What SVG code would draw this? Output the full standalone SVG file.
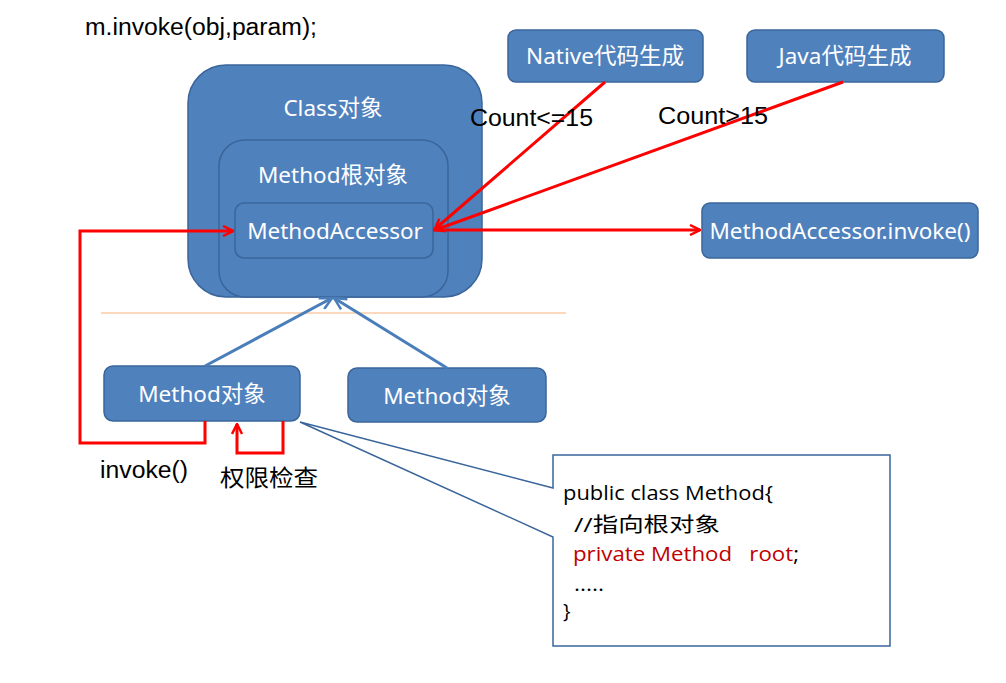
<svg xmlns="http://www.w3.org/2000/svg" width="1006" height="683" viewBox="0 0 1006 683">
<defs>
<style>
.box{fill:#4f81bd;stroke:#3a659a;stroke-width:1.5}
.bt{fill:#fff;font-family:"Noto Sans","Noto Sans CJK SC",sans-serif;font-size:22.5px;text-anchor:middle}
.lbl{fill:#000;font-family:"Liberation Sans","Noto Sans CJK SC",sans-serif;font-size:23px}
.red{fill:none;stroke:#ff0000;stroke-width:3}
.blue{fill:none;stroke:#4a7ebb;stroke-width:3}
.code{font-family:"Open Sans","Noto Sans CJK SC",sans-serif;font-size:20px}
</style>
<marker id="ra" viewBox="0 0 12 12" refX="11" refY="6" markerWidth="12" markerHeight="12" markerUnits="userSpaceOnUse" orient="auto">
<path d="M1,1 L11,6 L1,11" fill="none" stroke="#ff0000" stroke-width="2.5"/>
</marker>
<marker id="ba" viewBox="0 0 14 14" refX="13" refY="7" markerWidth="14" markerHeight="14" markerUnits="userSpaceOnUse" orient="auto">
<path d="M1,1 L13,7 L1,13" fill="none" stroke="#4a7ebb" stroke-width="2.5"/>
</marker>
</defs>
<rect width="1006" height="683" fill="#fff"/>
<text class="lbl" x="85" y="35" textLength="232" lengthAdjust="spacingAndGlyphs">m.invoke(obj,param);</text>
<g id="class-obj">
<rect class="box" x="188" y="65" width="294" height="232" rx="38"/>
<text class="bt" x="333" y="116">Class对象</text>
</g>
<g id="method-root">
<rect class="box" x="219" y="140" width="229" height="157" rx="26"/>
<text class="bt" x="333" y="183">Method根对象</text>
</g>
<g id="method-accessor">
<rect class="box" x="235" y="203" width="198" height="55" rx="9"/>
<text class="bt" x="335" y="239">MethodAccessor</text>
</g>
<g id="native">
<rect class="box" x="508" y="30" width="195" height="52" rx="8"/>
<text class="bt" x="605" y="64">Native代码生成</text>
</g>
<g id="java">
<rect class="box" x="747" y="30" width="197" height="52" rx="8"/>
<text class="bt" x="845" y="64">Java代码生成</text>
</g>
<g id="invoke-box">
<rect class="box" x="702" y="203" width="276" height="55" rx="8"/>
<text class="bt" x="840" y="239">MethodAccessor.invoke()</text>
</g>
<g id="method1">
<rect class="box" x="104" y="366" width="196" height="55" rx="9"/>
<text class="bt" x="202" y="402">Method对象</text>
</g>
<g id="method2">
<rect class="box" x="348" y="368" width="198" height="54" rx="9"/>
<text class="bt" x="447" y="404">Method对象</text>
</g>
<line x1="101" y1="313" x2="566" y2="313" stroke="#f9b27a" stroke-width="1.2"/>
<g id="connectors">
<line class="red" x1="605" y1="82" x2="435" y2="229" marker-end="url(#ra)"/>
<line class="red" x1="843" y1="82" x2="435" y2="230" marker-end="url(#ra)"/>
<line class="red" x1="433" y1="230" x2="700" y2="230" marker-end="url(#ra)"/>
<polyline class="red" points="205,421 205,443 80,443 80,231 233,231" marker-end="url(#ra)"/>
<polyline class="red" points="283,421 283,453 237,453 237,424" marker-end="url(#ra)"/>
<line class="blue" x1="205" y1="366" x2="332" y2="298" marker-end="url(#ba)"/>
<line class="blue" x1="447" y1="368" x2="334" y2="298" marker-end="url(#ba)"/>
</g>
<text class="lbl" x="470" y="126" textLength="123" lengthAdjust="spacingAndGlyphs">Count&lt;=15</text>
<text class="lbl" x="658" y="124" textLength="110" lengthAdjust="spacingAndGlyphs">Count&gt;15</text>
<text class="lbl" x="100" y="478" textLength="88" lengthAdjust="spacingAndGlyphs">invoke()</text>
<text class="lbl" x="220" y="486" font-size="24.5" fill="#333" textLength="98" lengthAdjust="spacingAndGlyphs">权限检查</text>
<g id="code-callout">
<path d="M553,455 L890,455 L890,646 L553,646 L553,537 L300,422 L553,488 Z" fill="#fff" stroke="#3a659a" stroke-width="1.5"/>
<text class="code" x="563" y="500" fill="#000" textLength="210" lengthAdjust="spacingAndGlyphs">public class Method{</text>
<text class="code" x="574" y="532" fill="#000" font-size="22" textLength="146" lengthAdjust="spacingAndGlyphs">//指向根对象</text>
<text class="code" x="573" y="561" fill="#c00000" xml:space="preserve" textLength="226" lengthAdjust="spacingAndGlyphs">private Method   root<tspan fill="#000">;</tspan></text>
<text class="code" x="574" y="591" fill="#000" textLength="30" lengthAdjust="spacingAndGlyphs">.....</text>
<text class="code" x="563" y="618" fill="#000">}</text>
</g>
</svg>
